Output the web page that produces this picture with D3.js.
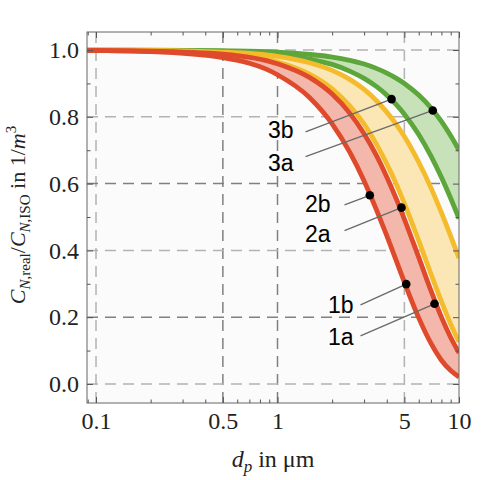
<!DOCTYPE html>
<html>
<head>
<meta charset="utf-8">
<script src="https://cdn.jsdelivr.net/npm/d3@7"></script>
<style>
  html, body { margin: 0; padding: 0; background: #ffffff; }
  svg { display: block; }
</style>
</head>
<body>
<div id="chart"></div>
<script>
// ---------- data ----------
const xDomain = [0.0892, 10];
const yDomain = [-0.057, 1.054];

const dp = [0.089, 0.2, 0.5, 1, 1.5, 2, 2.5, 3, 3.5, 4, 4.5, 5, 6, 7, 8, 9, 10];

// red band (left / right edge)
const red1 = [0.999, 0.995, 0.977, 0.926, 0.858, 0.779, 0.694, 0.608, 0.523, 0.444, 0.371, 0.305, 0.198, 0.122, 0.071, 0.040, 0.021];
const red2 = [0.999, 0.997, 0.988, 0.959, 0.918, 0.868, 0.811, 0.749, 0.685, 0.620, 0.556, 0.494, 0.379, 0.280, 0.200, 0.139, 0.093];
// yellow band
const yel1 = [0.999, 0.998, 0.989, 0.964, 0.928, 0.884, 0.833, 0.778, 0.719, 0.659, 0.600, 0.541, 0.429, 0.330, 0.247, 0.179, 0.126];
const yel2 = [1.000, 0.999, 0.994, 0.981, 0.962, 0.939, 0.912, 0.882, 0.849, 0.814, 0.778, 0.741, 0.664, 0.588, 0.513, 0.443, 0.377];
// green band
const grn1 = [1.000, 0.999, 0.996, 0.987, 0.973, 0.957, 0.937, 0.915, 0.891, 0.865, 0.837, 0.808, 0.747, 0.683, 0.619, 0.556, 0.495];
const grn2 = [1.000, 1.000, 0.998, 0.994, 0.987, 0.979, 0.969, 0.958, 0.945, 0.931, 0.916, 0.900, 0.865, 0.827, 0.786, 0.743, 0.700];

// annotations: label, label anchor (x,y), line start (x,y), marked point (x,y)
const annLabels = ["3b", "3a", "2b", "2a", "1b", "1a"];
const annTextX  = [1.225, 1.225, 1.959, 1.959, 2.623, 2.623];
const annTextY  = [0.737, 0.638, 0.515, 0.425, 0.213, 0.117];
const annLineX  = [1.427, 1.427, 2.34, 2.34, 2.866, 2.866];
const annLineY  = [0.755, 0.681, 0.536, 0.459, 0.237, 0.144];
const annPtX    = [4.25, 7.17, 3.225, 4.82, 5.12, 7.33];
const annPtY    = [0.853, 0.819, 0.565, 0.528, 0.299, 0.240];

// ticks & grid
const xMajor = [0.1, 0.5, 1, 5, 10];
const xMajorLabels = ["0.1", "0.5", "1", "5", "10"];
const xMinor = [0.09, 0.2, 0.3, 0.4, 0.6, 0.7, 0.8, 0.9, 2, 3, 4, 6, 7, 8, 9];
const yMajor = [0.0, 0.2, 0.4, 0.6, 0.8, 1.0];
const yMinor = [0.1, 0.3, 0.5, 0.7, 0.9];
const xGridDark = [0.5, 1];
const xGridLight = [0.1, 5];
const yGridDark = [0.2, 0.6];
const yGridLight = [0.0, 0.4, 0.8, 1.0];

// ---------- layout ----------
const W = 481, H = 480;
const L = 87, R = 459, T = 32, B = 403;

const svg = d3.select("#chart").append("svg").attr("width", W).attr("height", H);

const x = d3.scaleLog().domain(xDomain).range([L, R]);
const y = d3.scaleLinear().domain(yDomain).range([B, T]);

const serif = "'Liberation Serif', 'Times New Roman', 'DejaVu Serif', serif";
const sans = "'Liberation Sans', Arial, Helvetica, sans-serif";

// plot background
svg.append("rect").attr("x", L).attr("y", T).attr("width", R - L).attr("height", B - T).attr("fill", "#fbfbfb");

svg.append("defs").append("clipPath").attr("id", "clip")
  .append("rect").attr("x", L).attr("y", T).attr("width", R - L).attr("height", B - T);

// grid
const grid = svg.append("g").attr("fill", "none").attr("stroke-width", 1.5).attr("stroke-dasharray", "11,7");
grid.selectAll(".gxl").data(xGridLight).join("line")
  .attr("x1", d => x(d)).attr("x2", d => x(d)).attr("y1", T).attr("y2", B).attr("stroke", "#b3b3b3");
grid.selectAll(".gxd").data(xGridDark).join("line")
  .attr("x1", d => x(d)).attr("x2", d => x(d)).attr("y1", T).attr("y2", B).attr("stroke", "#808080");
grid.selectAll(".gyl").data(yGridLight).join("line")
  .attr("y1", d => y(d)).attr("y2", d => y(d)).attr("x1", L).attr("x2", R).attr("stroke", "#b3b3b3");
grid.selectAll(".gyd").data(yGridDark).join("line")
  .attr("y1", d => y(d)).attr("y2", d => y(d)).attr("x1", L).attr("x2", R).attr("stroke", "#808080");

// bands
const plot = svg.append("g").attr("clip-path", "url(#clip)");
const bands = [
  { lo: grn1, hi: grn2, fill: "#c7e2b8", line: "#5ca63c" },
  { lo: yel1, hi: yel2, fill: "#fbe7b5", line: "#f4bb2c" },
  { lo: red1, hi: red2, fill: "#f3b8ab", line: "#de4a2b" }
];
const area = (a, b) => d3.area()
  .x((d, i) => x(dp[i])).y0((d, i) => y(a[i])).y1((d, i) => y(b[i]))
  .curve(d3.curveMonotoneX)(dp);
const line = arr => d3.line()
  .x((d, i) => x(dp[i])).y((d, i) => y(arr[i]))
  .curve(d3.curveMonotoneX)(dp);

bands.forEach(b => {
  plot.append("path").attr("d", area(b.lo, b.hi)).attr("fill", b.fill);
});
bands.forEach(b => {
  plot.append("path").attr("d", line(b.hi)).attr("fill", "none").attr("stroke", b.line).attr("stroke-width", 4.8);
  plot.append("path").attr("d", line(b.lo)).attr("fill", "none").attr("stroke", b.line).attr("stroke-width", 4.8);
});

// frame
svg.append("rect").attr("x", L).attr("y", T).attr("width", R - L).attr("height", B - T)
  .attr("fill", "none").attr("stroke", "#666").attr("stroke-width", 1);

// axes
function styleAxis(g) {
  g.select(".domain").remove();
  g.selectAll(".tick line").attr("stroke", "#555");
  g.selectAll("text").attr("font-family", serif).attr("font-size", 24).attr("fill", "#222");
}
svg.append("g").attr("transform", `translate(0,${B})`)
  .call(d3.axisBottom(x).tickValues(xMajor).tickSize(-6).tickPadding(9)
    .tickFormat((d, i) => xMajorLabels[i])).call(styleAxis);
svg.append("g").attr("transform", `translate(0,${B})`)
  .call(d3.axisBottom(x).tickValues(xMinor).tickSize(-3.5).tickFormat("")).call(styleAxis);
svg.append("g").attr("transform", `translate(0,${T})`)
  .call(d3.axisTop(x).tickValues(xMajor).tickSize(-6).tickFormat("")).call(styleAxis);
svg.append("g").attr("transform", `translate(0,${T})`)
  .call(d3.axisTop(x).tickValues(xMinor).tickSize(-3.5).tickFormat("")).call(styleAxis);
svg.append("g").attr("transform", `translate(${L},0)`)
  .call(d3.axisLeft(y).tickValues(yMajor).tickSize(-6).tickPadding(8).tickFormat(d3.format(".1f"))).call(styleAxis);
svg.append("g").attr("transform", `translate(${L},0)`)
  .call(d3.axisLeft(y).tickValues(yMinor).tickSize(-3.5).tickFormat("")).call(styleAxis);
svg.append("g").attr("transform", `translate(${R},0)`)
  .call(d3.axisRight(y).tickValues(yMajor).tickSize(-6).tickFormat("")).call(styleAxis);
svg.append("g").attr("transform", `translate(${R},0)`)
  .call(d3.axisRight(y).tickValues(yMinor).tickSize(-3.5).tickFormat("")).call(styleAxis);

// annotations
const ann = svg.append("g");
annLabels.forEach((lab, i) => {
  ann.append("line")
    .attr("x1", x(annLineX[i])).attr("y1", y(annLineY[i]))
    .attr("x2", x(annPtX[i])).attr("y2", y(annPtY[i]))
    .attr("stroke", "#6a6a6a").attr("stroke-width", 1.3);
  ann.append("circle").attr("cx", x(annPtX[i])).attr("cy", y(annPtY[i])).attr("r", 4.3).attr("fill", "#000");
  ann.append("text").attr("x", x(annTextX[i])).attr("y", y(annTextY[i]))
    .attr("text-anchor", "end").attr("font-family", sans).attr("font-size", 23).attr("fill", "#000")
    .text(lab);
});

// x axis title
const xt = svg.append("text").attr("x", 273).attr("y", 467).attr("text-anchor", "middle")
  .attr("font-family", serif).attr("font-size", 24).attr("fill", "#222");
xt.append("tspan").attr("font-style", "italic").text("d");
xt.append("tspan").attr("font-style", "italic").attr("font-size", 17).attr("dy", 5).text("p");
xt.append("tspan").attr("dy", -5).text(" in μm");

// y axis title
const yt = svg.append("text").attr("transform", "translate(25,215) rotate(-90)").attr("text-anchor", "middle")
  .attr("font-family", serif).attr("font-size", 22).attr("fill", "#222");
yt.append("tspan").attr("font-style", "italic").text("C");
yt.append("tspan").attr("font-style", "italic").attr("font-size", 15).attr("dy", 5).text("N");
yt.append("tspan").attr("font-size", 15).text(",real");
yt.append("tspan").attr("dy", -5).text("/");
yt.append("tspan").attr("font-style", "italic").text("C");
yt.append("tspan").attr("font-style", "italic").attr("font-size", 15).attr("dy", 5).text("N");
yt.append("tspan").attr("font-size", 15).text(",ISO");
yt.append("tspan").attr("dy", -5).text(" in 1/");
yt.append("tspan").attr("font-style", "italic").text("m");
yt.append("tspan").attr("font-size", 15).attr("dy", -9).text("3");
</script>
</body>
</html>
